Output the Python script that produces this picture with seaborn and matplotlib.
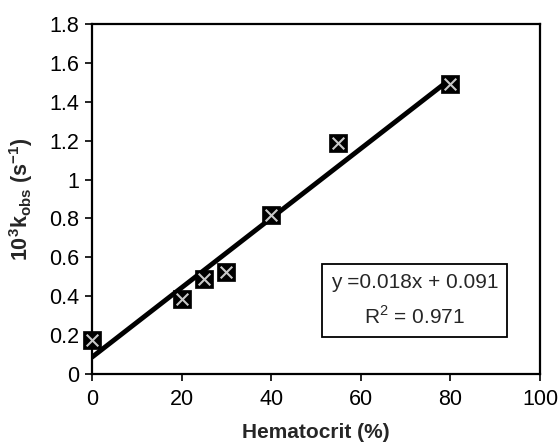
import matplotlib
matplotlib.use("Agg")
import matplotlib.pyplot as plt
import seaborn as sns
import pandas as pd

# ── Data ──────────────────────────────────────────────────────────────────────
HEMATOCRIT = [0, 20, 25, 30, 40, 55, 80]
K_OBS      = [0.175, 0.385, 0.49, 0.525, 0.82, 1.19, 1.49]

df = pd.DataFrame({"hct": HEMATOCRIT, "k": K_OBS})

sns.set_style("white")
plt.rcParams["font.family"] = ["Liberation Sans", "DejaVu Sans"]
plt.rcParams["mathtext.fontset"] = "custom"
plt.rcParams["mathtext.rm"] = "Liberation Sans"
plt.rcParams["mathtext.bf"] = "Liberation Sans:bold"

fig = plt.figure(figsize=(5.59, 4.46), dpi=100)
ax = fig.add_axes([92 / 559, 1 - 374 / 446, 448 / 559, 350 / 446])

sns.regplot(data=df, x="hct", y="k", ci=None, truncate=True, ax=ax,
            scatter=False, line_kws=dict(color="black", lw=3.5, zorder=2))
sns.scatterplot(data=df, x="hct", y="k", marker="s", s=170, color="black",
                edgecolor="black", linewidth=0.5, ax=ax, zorder=3, clip_on=False)
sns.scatterplot(data=df, x="hct", y="k", marker="x", s=70, color="#c8c8c8",
                linewidth=1.5, ax=ax, zorder=4, clip_on=False)

ax.set_xlim(0, 100)
ax.set_ylim(0, 1.8)
ax.set_xticks([0, 20, 40, 60, 80, 100])
ax.set_yticks([0, 0.2, 0.4, 0.6, 0.8, 1, 1.2, 1.4, 1.6, 1.8])
ax.set_yticklabels(["0", "0.2", "0.4", "0.6", "0.8", "1", "1.2", "1.4", "1.6", "1.8"])
ax.tick_params(direction="out", length=5, width=1.2, labelsize=15.5,
               left=True, bottom=True, colors="black")
ax.tick_params(axis="x", pad=6)
ax.tick_params(axis="y", pad=4)
for sp in ax.spines.values():
    sp.set_color("black")
    sp.set_linewidth(1.6)

ax.set_xlabel("Hematocrit (%)", fontsize=15, fontweight="bold", labelpad=9)
ax.set_ylabel(r"10$^{\mathbf{3}}$k$_{\mathbf{obs}}$ (s$^{\mathbf{-1}}$)",
              fontsize=15.5, fontweight="bold", labelpad=10)

ax.text(0.72, 0.21, "y =0.018x + 0.091\nR$^2$ = 0.971", transform=ax.transAxes,
        ha="center", va="center", fontsize=15, linespacing=1.75,
        bbox=dict(boxstyle="square,pad=0.4", facecolor="white",
                  edgecolor="black", linewidth=1.3))

fig.savefig("out.png", dpi=100)
